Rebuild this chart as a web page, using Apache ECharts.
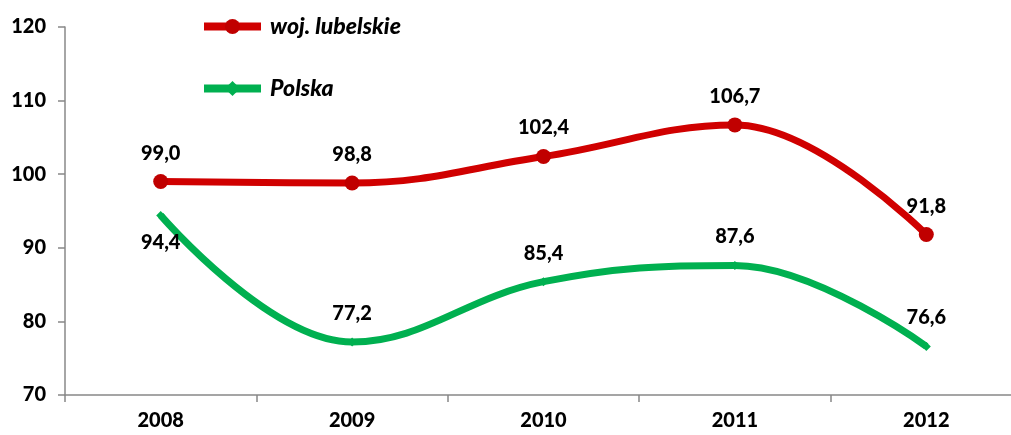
<!DOCTYPE html>
<html>
<head>
<meta charset="utf-8">
<script src="https://cdn.jsdelivr.net/npm/echarts@6/dist/echarts.min.js"></script>
<style>
  html, body { margin: 0; padding: 0; background: #fff; overflow: hidden; }
  #main { width: 1022px; height: 435px; }
</style>
</head>
<body>
<div id="main"></div>
<script>
// dane
var years = ['2008', '2009', '2010', '2011', '2012'];
var lubelskie = [99.0, 98.8, 102.4, 106.7, 91.8];
var polska = [94.4, 77.2, 85.4, 87.6, 76.6];
var seriesNames = ['woj. lubelskie', 'Polska'];

var chart = echarts.init(document.getElementById('main'));

function fmt(p) {
    return p.value.toFixed(1).replace('.', ',');
}

var labelStyle = {
    show: true,
    position: 'top',
    fontFamily: 'Lato',
    fontWeight: 900,
    fontSize: 20,
    color: '#000',
    formatter: fmt
};

var option = {
    animation: false,
    legend: {
        orient: 'vertical',
        left: 195,
        top: 10,
        itemWidth: 57,
        itemHeight: 19,
        itemGap: 39,
        lineStyle: { width: 8 },
        textStyle: {
            fontFamily: 'Lato',
            fontWeight: 900,
            fontStyle: 'italic',
            fontSize: 23,
            color: '#000',
            padding: [0, 0, 0, 4]
        },
        data: seriesNames
    },
    grid: {
        left: 65,
        right: 0,
        top: 27,
        bottom: 40
    },
    xAxis: {
        type: 'category',
        data: years,
        boundaryGap: true,
        axisLine: { lineStyle: { color: '#888', width: 1.5 } },
        axisTick: { show: true, length: 7, lineStyle: { color: '#888', width: 1.5 } },
        axisLabel: {
            margin: 16,
            fontFamily: 'Lato',
            fontWeight: 900,
            fontSize: 20,
            color: '#000'
        }
    },
    yAxis: {
        type: 'value',
        min: 70,
        max: 120,
        interval: 10,
        splitLine: { show: false },
        axisLine: { show: true, lineStyle: { color: '#888', width: 1.5 } },
        axisTick: { show: true, length: 7, lineStyle: { color: '#888', width: 1.5 } },
        axisLabel: {
            margin: 19,
            fontFamily: 'Lato',
            fontWeight: 900,
            fontSize: 20,
            color: '#000'
        }
    },
    series: [
        {
            name: seriesNames[0],
            type: 'line',
            data: lubelskie,
            smooth: 0.4,
            symbol: 'circle',
            symbolSize: 15,
            itemStyle: { color: '#c00000' },
            lineStyle: { color: '#d00000', width: 7 },
            label: Object.assign({}, labelStyle, { distance: 11 })
        },
        {
            name: seriesNames[1],
            type: 'line',
            data: polska.map(function (v, i) {
                return i === 0 ? { value: v, label: { position: 'bottom', distance: 13 } } : v;
            }),
            smooth: 0.4,
            symbol: 'diamond',
            symbolSize: 9,
            itemStyle: { color: '#00b050' },
            lineStyle: { color: '#00b050', width: 7 },
            label: Object.assign({}, labelStyle, { distance: 14 })
        }
    ]
};

chart.setOption(option);
</script>
</body>
</html>
